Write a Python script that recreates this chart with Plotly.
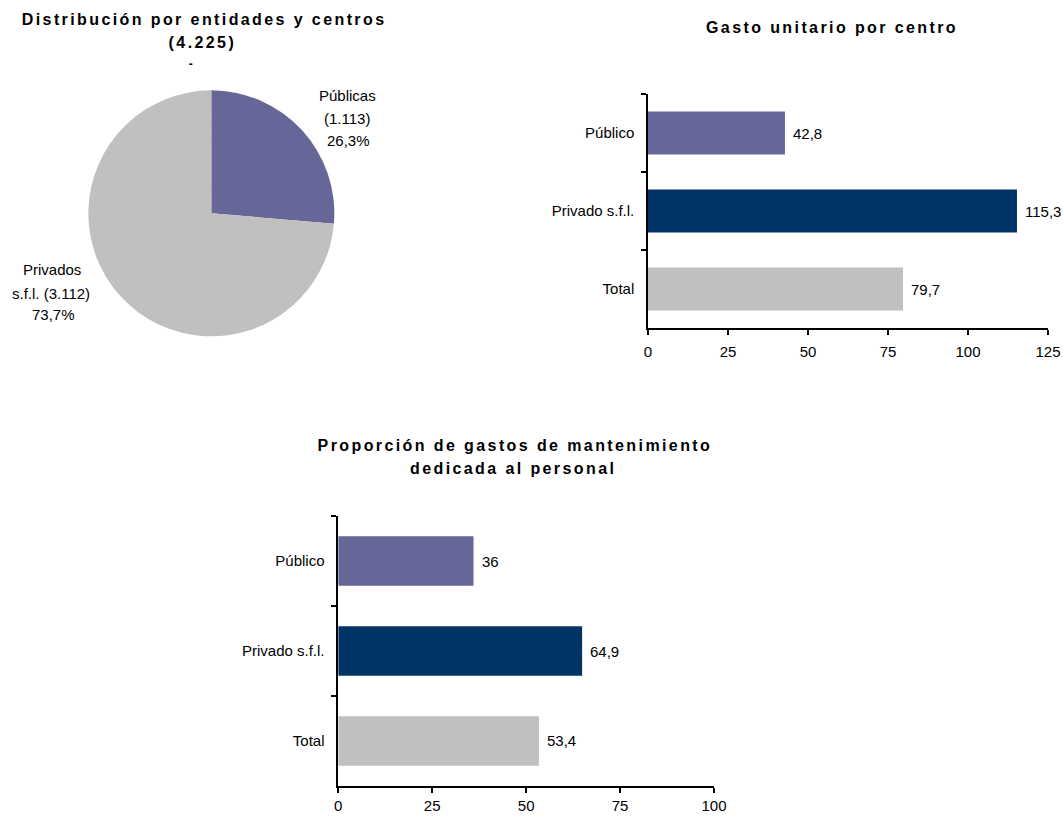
import plotly.graph_objects as go

# --- data -------------------------------------------------------------
pie_labels = ["Públicas", "Privados s.f.l."]
pie_counts = [1113, 3112]
pie_colors = ["#666699", "#C0C0C0"]

categories = ["Público", "Privado s.f.l.", "Total"]
gasto_unitario = [42.8, 115.3, 79.7]
prop_personal = [36, 64.9, 53.4]
bar_colors = ["#666699", "#003366", "#C0C0C0"]

x_ticks_gasto = [0, 25, 50, 75, 100, 125]
x_ticks_prop = [0, 25, 50, 75, 100]

FONT = "Liberation Sans, Arial, sans-serif"
W, H = 1063, 816


def es_num(v, dec=1):
    """Spanish number formatting: comma decimals, dot thousands."""
    if isinstance(v, int) or float(v).is_integer():
        return f"{int(v):,}".replace(",", ".")
    return f"{v:.{dec}f}".replace(".", ",")


total_centros = sum(pie_counts)
pct = [c / total_centros * 100 for c in pie_counts]

fig = go.Figure()

# --- pie: distribution by entity ---------------------------------------
fig.add_trace(go.Pie(
    labels=pie_labels,
    values=pie_counts,
    marker=dict(colors=pie_colors, line=dict(width=0)),
    sort=False,
    direction="clockwise",
    rotation=0,
    textinfo="none",
    hoverinfo="label+value+percent",
    domain=dict(x=[0.0831, 0.3145], y=[0.5874, 0.8897]),
    showlegend=False,
))

# --- bars: unit cost per centre and share spent on staff -----------------
for values, xa, ya in [(gasto_unitario, "x", "y"), (prop_personal, "x2", "y2")]:
    fig.add_trace(go.Bar(
        x=values, y=categories, orientation="h",
        marker=dict(color=bar_colors, line=dict(width=0)),
        cliponaxis=False, xaxis=xa, yaxis=ya, showlegend=False,
    ))
    # value labels just past the end of each bar
    for v, cat in zip(values, categories):
        fig.add_annotation(
            x=v, y=cat, xref=xa, yref=ya, text=es_num(v), showarrow=False,
            xanchor="left", yanchor="middle", xshift=6,
            font=dict(size=15, color="black", family=FONT),
        )

x_common = dict(
    showgrid=False, zeroline=False, showline=True, linecolor="black",
    linewidth=1.5, ticks="outside", ticklen=5, tickwidth=1.5,
    tickcolor="black", tickfont=dict(size=15, color="black", family=FONT),
    automargin=False, fixedrange=True,
)
y_common = dict(
    type="category", categoryorder="array", categoryarray=categories,
    range=[2.5, -0.5], showgrid=False, zeroline=False, showline=True,
    linecolor="black", linewidth=1.5, ticks="outside", ticklen=5,
    tickwidth=1.5, tickcolor="black", tickson="boundaries",
    tickfont=dict(size=15, color="black", family=FONT),
    ticklabelstandoff=9, automargin=False, fixedrange=True,
)

fig.update_layout(
    width=W, height=H,
    margin=dict(l=0, r=0, t=0, b=0, pad=0, autoexpand=False),
    paper_bgcolor="white", plot_bgcolor="white",
    font=dict(family=FONT, size=15, color="black"),
    bargap=0.45,
    showlegend=False,
    xaxis=dict(domain=[0.6096, 0.9859], range=[0, 125], tickvals=x_ticks_gasto,
               anchor="y", ticklabelstandoff=4, **x_common),
    yaxis=dict(domain=[0.598, 0.8848], anchor="x", **y_common),
    xaxis2=dict(domain=[0.3182, 0.6717], range=[0, 100], tickvals=x_ticks_prop,
                anchor="y2", ticklabelstandoff=0, **x_common),
    yaxis2=dict(domain=[0.0368, 0.3676], anchor="x2", **y_common),
)


# --- titles and pie labels -------------------------------------------
def text_at(x_px, y_px, s, size=15, bold=False):
    fig.add_annotation(
        x=x_px / W, y=1 - y_px / H, xref="paper", yref="paper",
        text=s, showarrow=False, xanchor="center", yanchor="middle",
        font=dict(size=size, color="black", family=FONT,
                  weight="bold" if bold else "normal"),
    )


text_at(204, 19, "Distribución por entidades y centros", 16, True)
text_at(202, 42, f"({es_num(total_centros)})", 16, True)
text_at(192, 64, "-", 12, True)
text_at(832, 28, "Gasto unitario por centro", 16, True)
text_at(515, 446, "Proporción de gastos de mantenimiento", 16, True)
text_at(513, 469, "dedicada al personal", 16, True)

text_at(347, 95, "Públicas")
text_at(347, 118, f"({es_num(pie_counts[0])})")
text_at(348, 140, f"{es_num(pct[0])}%")
text_at(52, 270, "Privados")
text_at(51, 293, f"s.f.l. ({es_num(pie_counts[1])})")
text_at(53, 315, f"{es_num(pct[1])}%")

# page without margins or scrollbars; wider tracking on the bold headings
post = """
document.documentElement.style.margin = '0';
document.documentElement.style.overflow = 'hidden';
document.body.style.margin = '0';
document.body.style.overflow = 'hidden';
document.querySelectorAll('text.annotation-text').forEach(function(t){
  var w = parseInt(getComputedStyle(t).fontWeight, 10);
  if (w >= 600) { t.style.letterSpacing = '2.4px'; }
});
"""

fig.write_html("out.html", post_script=post, config={"responsive": False})
